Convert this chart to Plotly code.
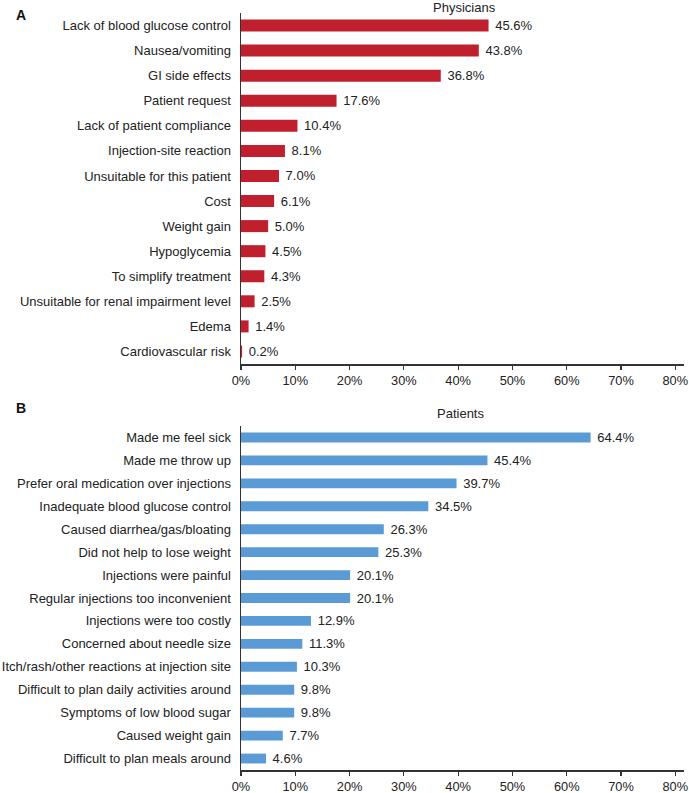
import plotly.graph_objects as go

phys_labels = ["Lack of blood glucose control", "Nausea/vomiting", "GI side effects", "Patient request",
               "Lack of patient compliance", "Injection-site reaction", "Unsuitable for this patient", "Cost",
               "Weight gain", "Hypoglycemia", "To simplify treatment", "Unsuitable for renal impairment level",
               "Edema", "Cardiovascular risk"]
phys_values = [45.6, 43.8, 36.8, 17.6, 10.4, 8.1, 7.0, 6.1, 5.0, 4.5, 4.3, 2.5, 1.4, 0.2]

pat_labels = ["Made me feel sick", "Made me throw up", "Prefer oral medication over injections",
              "Inadequate blood glucose control", "Caused diarrhea/gas/bloating", "Did not help to lose weight",
              "Injections were painful", "Regular injections too inconvenient", "Injections were too costly",
              "Concerned about needle size", "Itch/rash/other reactions at injection site",
              "Difficult to plan daily activities around", "Symptoms of low blood sugar", "Caused weight gain",
              "Difficult to plan meals around"]
pat_values = [64.4, 45.4, 39.7, 34.5, 26.3, 25.3, 20.1, 20.1, 12.9, 11.3, 10.3, 9.8, 9.8, 7.7, 4.6]

x_ticks = [0, 10, 20, 30, 40, 50, 60, 70, 80]
x_ticktext = [f"{v}%" for v in x_ticks]

W, H = 689, 793
FONT = "Liberation Sans, Arial, sans-serif"
AX = "#333333"
FS = 13

fig = go.Figure()
fig.add_trace(go.Bar(
    y=phys_labels, x=phys_values, orientation="h", xaxis="x", yaxis="y",
    marker=dict(color="#C0202E", line=dict(width=0)), width=0.48,
    text=[f" {v:.1f}%" for v in phys_values], textposition="outside", cliponaxis=False,
    constraintext="none",
    textfont=dict(size=FS, color="#222", family=FONT), hoverinfo="skip", showlegend=False))
fig.add_trace(go.Bar(
    y=pat_labels, x=pat_values, orientation="h", xaxis="x2", yaxis="y2",
    marker=dict(color="#5B9BD5", line=dict(width=0)), width=0.43,
    text=[f" {v:.1f}%" for v in pat_values], textposition="outside", cliponaxis=False,
    constraintext="none",
    textfont=dict(size=FS, color="#222", family=FONT), hoverinfo="skip", showlegend=False))

xd = [241 / W, 684 / W]
def ydom(top, bot):
    return [1 - bot / H, 1 - top / H]

xcommon = dict(range=[0, 81.6], tickvals=x_ticks, ticktext=x_ticktext, showgrid=False, zeroline=False,
               showline=True, linecolor=AX, linewidth=1.5, ticks="outside", ticklen=4, tickcolor=AX,
               tickwidth=1.2, tickfont=dict(size=12.8, color="#222", family=FONT), fixedrange=True,
               automargin=False, ticklabeloverflow="allow")
ycommon = dict(showgrid=False, zeroline=False, showline=True, linecolor=AX, linewidth=1.5, ticks="",
               tickfont=dict(size=FS, color="#222", family=FONT), ticklabelstandoff=6, automargin=False,
               fixedrange=True)

fig.update_layout(
    width=W, height=H, margin=dict(l=0, r=0, t=0, b=0, autoexpand=False),
    paper_bgcolor="white", plot_bgcolor="white", bargap=0.5,
    font=dict(family=FONT, color="#222"),
    xaxis=dict(domain=xd, anchor="y", **xcommon),
    yaxis=dict(domain=ydom(13, 364), anchor="x", autorange="reversed", **ycommon),
    xaxis2=dict(domain=xd, anchor="y2", **xcommon),
    yaxis2=dict(domain=ydom(426, 770), anchor="x2", autorange="reversed", **ycommon),
    annotations=[
        dict(text="<b>A</b>", x=14 / W, y=1 - 15 / H, xref="paper", yref="paper", showarrow=False,
             xanchor="left", yanchor="middle", font=dict(size=14, family=FONT, color="#111")),
        dict(text="<b>B</b>", x=14 / W, y=1 - 408 / H, xref="paper", yref="paper", showarrow=False,
             xanchor="left", yanchor="middle", font=dict(size=14, family=FONT, color="#111")),
        dict(text="Physicians", x=464 / W, y=1 - 7.5 / H, xref="paper", yref="paper", showarrow=False,
             xanchor="center", yanchor="middle", font=dict(size=FS, family=FONT, color="#222")),
        dict(text="Patients", x=460 / W, y=1 - 414 / H, xref="paper", yref="paper", showarrow=False,
             xanchor="center", yanchor="middle", font=dict(size=FS, family=FONT, color="#222")),
    ],
)

fig.write_html("out.html", config={"displayModeBar": False, "staticPlot": True},
               post_script="document.body.style.margin='0';document.body.style.overflow='hidden';")
